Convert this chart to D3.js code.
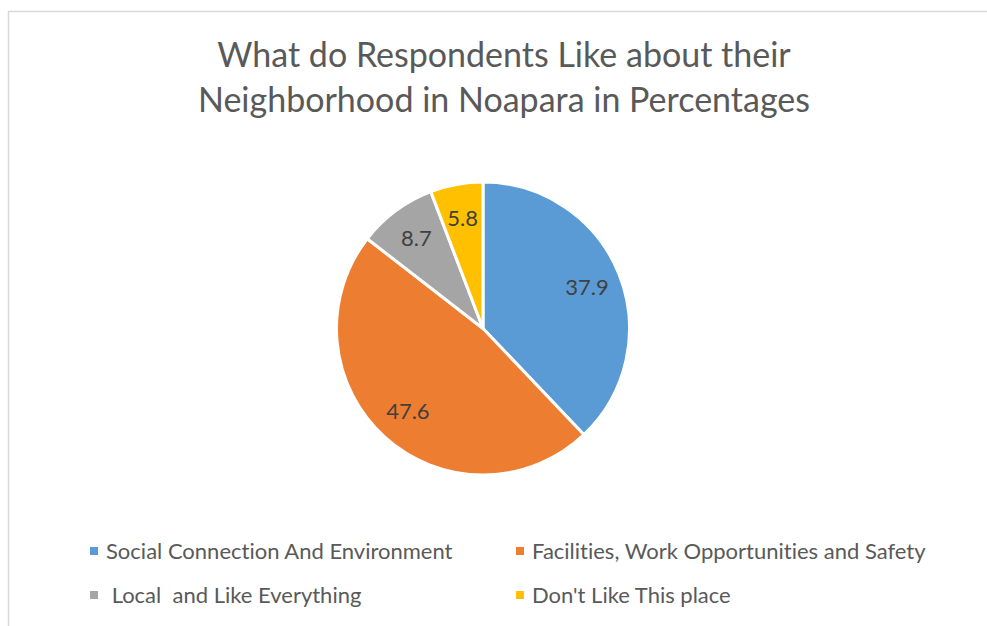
<!DOCTYPE html>
<html><head><meta charset="utf-8">
<script src="https://cdn.jsdelivr.net/npm/d3@7"></script>
<style>body{margin:0;background:#fff}svg{display:block}text{font-family:Lato,"Open Sans",sans-serif;font-variant-ligatures:none;font-feature-settings:"liga" 0,"clig" 0}</style>
</head><body><svg id="c" width="987" height="626"></svg>
<script>
const categories = ["Social Connection And Environment","Facilities, Work Opportunities and Safety"," Local  and Like Everything","Don't Like This place"];
const values = [37.9, 47.6, 8.7, 5.8];
const labels = ["37.9","47.6","8.7","5.8"];
const colors = ["#5B9BD5","#ED7D31","#A5A5A5","#FFC000"];
const titleLines = ["What do Respondents Like about their","Neighborhood in Noapara in Percentages"];

const svg = d3.select("#c");
svg.append("rect").attr("x",8.5).attr("y",11.5).attr("width",1200).attr("height",800)
  .attr("fill","#fff").attr("stroke","#d9d9d9").attr("stroke-width",1.5);

svg.append("g").selectAll("text").data(titleLines).join("text")
  .attr("x",504).attr("y",(d,i)=>67+i*45).attr("text-anchor","middle")
  .attr("fill","#595959").style("font-size","34px").text(d=>d);

const cx=483, cy=328.5, R=146.5;
const pie = d3.pie().sort(null).value(d=>d);
const arc = d3.arc().innerRadius(0).outerRadius(R);
const labelArc = d3.arc().innerRadius(112).outerRadius(112);
const g = svg.append("g").attr("transform",`translate(${cx},${cy})`);
const arcs = pie(values);
g.selectAll("path").data(arcs).join("path").attr("d",arc)
  .attr("fill",(d,i)=>colors[i]).attr("stroke","#fff").attr("stroke-width",3).attr("stroke-linejoin","round");
g.selectAll("text").data(arcs).join("text")
  .attr("transform",d=>`translate(${labelArc.centroid(d)})`)
  .attr("text-anchor","middle").attr("dy","0.35em")
  .attr("fill","#404040").style("font-size","22px").text((d,i)=>labels[i]);

const legX = [90,516], legY=[551,595];
const lg = svg.append("g");
categories.forEach((c,i)=>{
  const x = legX[i%2], y = legY[Math.floor(i/2)];
  lg.append("rect").attr("x",x).attr("y",y-4).attr("width",8).attr("height",8).attr("fill",colors[i]);
  lg.append("text").attr("x",x+16).attr("y",y).attr("dy","0.35em").attr("fill","#595959")
    .style("font-size","22px").style("white-space","pre").attr("xml:space","preserve").text(c);
});
</script></body></html>
